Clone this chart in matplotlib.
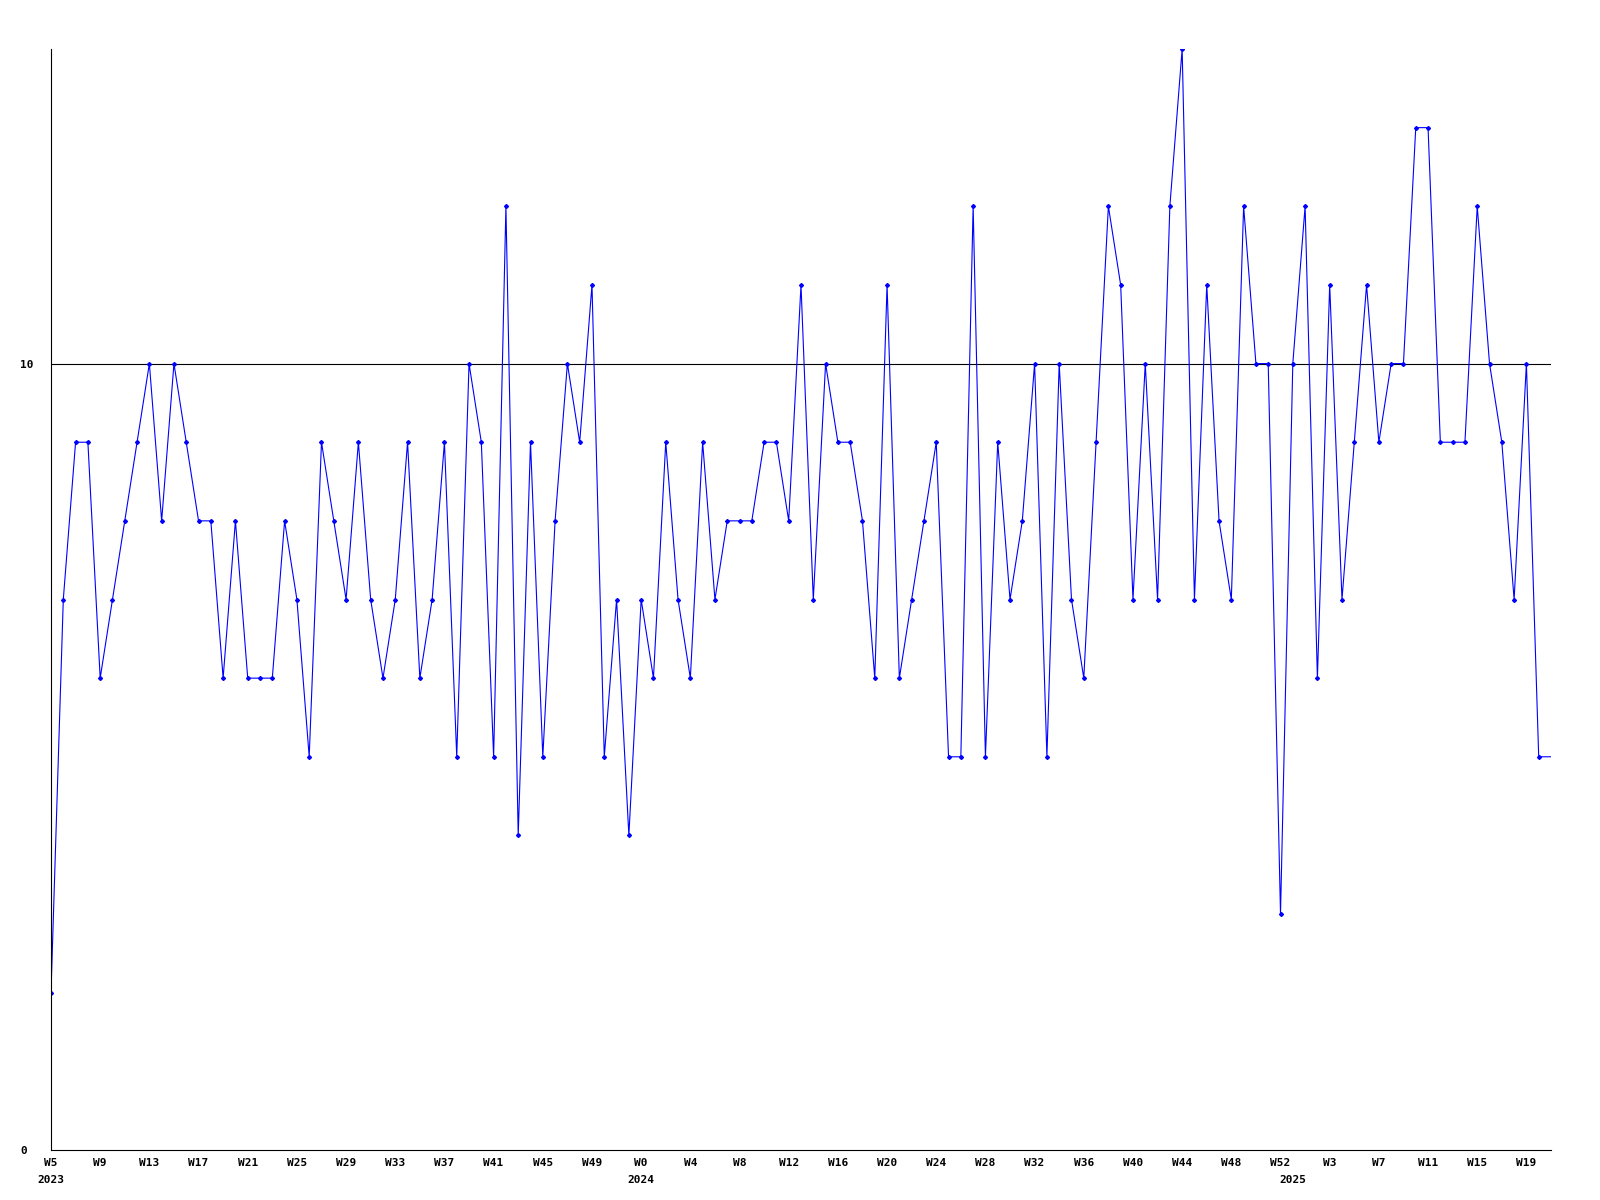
import matplotlib
matplotlib.use('Agg')
import matplotlib.pyplot as plt

# weekly values, W5 2023 .. W21 2025 (last one only extends the line)
values = [2, 7, 9, 9, 6, 7, 8, 9, 10, 8, 10, 9, 8, 8, 6, 8, 6, 6, 6,
          8, 7, 5, 9, 8, 7, 9, 7, 6, 7, 9, 6, 7, 9, 5, 10, 9, 5, 12, 4, 9,
          5, 8, 10, 9, 11, 5, 7, 4, 7, 6, 9, 7, 6, 9, 7, 8, 8, 8, 9, 9, 8, 11,
          7, 10, 9, 9, 8, 6, 11, 6, 7, 8, 9, 5, 5, 12, 5, 9, 7, 8, 10, 5, 10,
          7, 6, 9, 12, 11, 7, 10, 7, 12, 14, 7, 11, 8, 7, 12, 10, 10, 3, 10, 12, 6,
          11, 7, 9, 11, 9, 10, 10, 13, 13, 9, 9, 9, 12, 10, 9, 7, 10, 5,
          5]
week_labels = ['W5', 'W9', 'W13', 'W17', 'W21', 'W25', 'W29', 'W33', 'W37', 'W41',
               'W45', 'W49', 'W0', 'W4', 'W8', 'W12', 'W16', 'W20', 'W24', 'W28',
               'W32', 'W36', 'W40', 'W44', 'W48', 'W52', 'W3', 'W7', 'W11', 'W15', 'W19']
years = ['2023', '2024', '2025']
year_pos = [0, 48, 101]
y_ticks = [0, 10]
ref_level = 10

x = list(range(len(values)))

plt.rcParams['font.family'] = ['DejaVu Sans Mono']
fig = plt.figure(figsize=(16, 12), dpi=100)
ax = fig.add_axes([51 / 1600, 1 - 1150 / 1200, 1500 / 1600, 1101 / 1200])

ax.axhline(ref_level, color='black', linewidth=0.8, zorder=1)
ax.plot(x, values, color='#0000ff', linewidth=0.8, marker='D', markersize=2,
        markevery=list(range(len(values) - 1)), zorder=2)

ax.set_xlim(0, len(values) - 1)
ax.set_ylim(0, 14)

ax.set_xticks(list(range(0, len(week_labels) * 4, 4)))
ax.set_xticklabels(week_labels, fontsize=8, fontweight='bold')
ax.set_yticks(y_ticks)
ax.set_yticklabels([str(v) for v in y_ticks], fontsize=8, fontweight='bold', ha='left')
ax.tick_params(axis='x', length=0, pad=6)
ax.tick_params(axis='y', length=0, pad=22)

for yr, p in zip(years, year_pos):
    ax.annotate(yr, xy=(p, 0), xycoords=('data', 'axes fraction'),
                xytext=(0, -18), textcoords='offset points',
                ha='center', va='top', fontsize=8, fontweight='bold')

for s in ['top', 'right']:
    ax.spines[s].set_visible(False)
for s in ['left', 'bottom']:
    ax.spines[s].set_linewidth(0.8)

fig.savefig('out.png', dpi=100)
